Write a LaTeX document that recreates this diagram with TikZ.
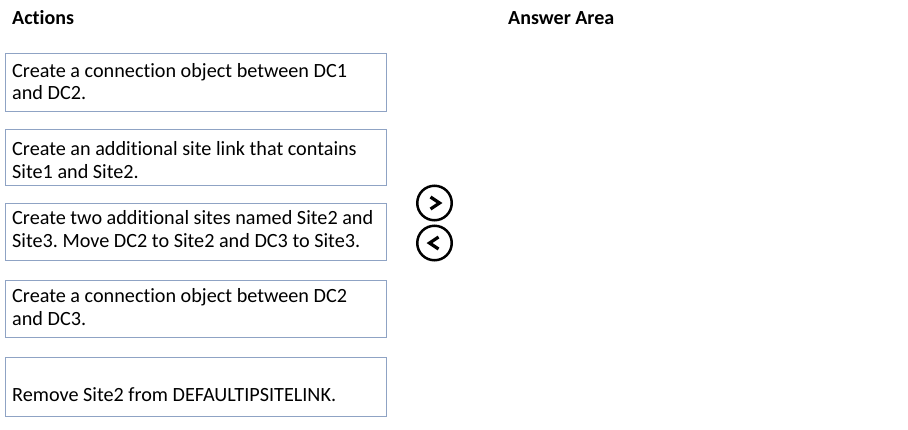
\documentclass[tikz,border=0pt]{standalone}
\usepackage{fontspec}
\setmainfont[Ligatures=NoCommon]{Carlito}
\frenchspacing
\definecolor{boxblue}{RGB}{143,163,196}
\tikzset{
  actbox/.style={draw=boxblue, line width=1pt, anchor=north west, inner sep=0, minimum width=381pt},
  acttxt/.style={anchor=base west, align=left, inner sep=0, font=\fontsize{20.2}{22.5}\selectfont},
  head/.style={anchor=base west, inner sep=0, font=\bfseries\fontsize{20}{22}\selectfont},
  btn/.style={circle, draw, line width=2.5pt, minimum size=34.5pt, inner sep=0}
}
\begin{document}
\begin{tikzpicture}[x=1pt,y=-1pt]
\useasboundingbox (0,0) rectangle (908,429);
\node[head] (hact) at (12,24) {Actions};
\node[head] (hans) at (508,24) {Answer Area};
\node[actbox, minimum height=58pt] (act1) at (5,53){};
\node[acttxt] (txt1) at (12,99.5) {Create a connection object between DC1\\and DC2.};
\node[actbox, minimum height=56pt] (act2) at (5,129){};
\node[acttxt] (txt2) at (12,178) {Create an additional site link that contains\\Site1 and Site2.};
\node[actbox, minimum height=57pt] (act3) at (5,203){};
\node[acttxt] (txt3) at (12,247) {Create two additional sites named Site2 and\\Site3. Move DC2 to Site2 and DC3 to Site3.};
\node[actbox, minimum height=57pt] (act4) at (5,280){};
\node[acttxt] (txt4) at (12,325) {Create a connection object between DC2\\and DC3.};
\node[actbox, minimum height=59pt] (act5) at (5,357){};
\node[acttxt] (txt5) at (12,401) {Remove Site2 from DEFAULTIPSITELINK.};
\node[btn] (btn1) at (434.5,203){};
\node[btn] (btn2) at (434.5,243){};
\draw[line width=3.2pt] ([xshift=-4pt,yshift=6pt]btn1.center) -- ([xshift=5pt]btn1.center) -- ([xshift=-4pt,yshift=-6pt]btn1.center);
\draw[line width=3.2pt] ([xshift=4pt,yshift=6pt]btn2.center) -- ([xshift=-5pt]btn2.center) -- ([xshift=4pt,yshift=-6pt]btn2.center);
\end{tikzpicture}
\end{document}
